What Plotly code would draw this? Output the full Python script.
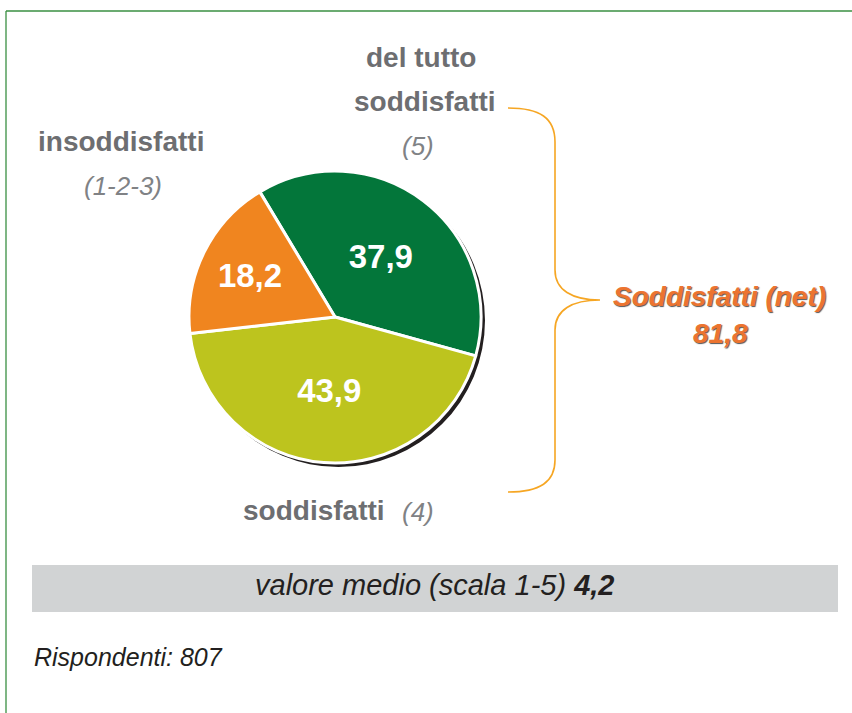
import plotly.graph_objects as go

# ---- data ----
categories = ["del tutto soddisfatti (5)", "soddisfatti (4)", "insoddisfatti (1-2-3)"]
values = [37.9, 43.9, 18.2]
net_label = "Soddisfatti (net)"
net_value = 81.8
mean_value = 4.2
respondents = 807

colors = ["#03763a", "#bdc41e", "#f0851f"]

W, H = 852, 713
NARROW = "Liberation Sans Narrow, Arial Narrow, Liberation Sans, Arial, sans-serif"
GREY = "#6d6e71"
LGREY = "#808285"


def px(x):
    return x / W


def py(y):
    return 1 - y / H


def fmt(v):
    return f"{v:.1f}".replace(".", ",")


# pie geometry (pixels)
cx, cy, r = 335, 317, 146

fig = go.Figure()
fig.add_trace(go.Pie(
    labels=categories,
    values=values,
    sort=False,
    direction="clockwise",
    rotation=-31,
    marker=dict(colors=colors, line=dict(color="white", width=3)),
    texttemplate="<b>%{value:.1f}</b>",
    textposition="inside",
    insidetextorientation="horizontal",
    textfont=dict(family=NARROW, size=33, color="white"),
    hoverinfo="label+value",
    showlegend=False,
    domain=dict(x=[px(cx - r), px(cx + r)], y=[py(cy + r), py(cy - r)]),
))

shapes = []
# frame (left & top green lines)
shapes.append(dict(type="line", xref="paper", yref="paper", x0=px(6), y0=py(11), x1=px(852), y1=py(11),
                   line=dict(color="#3a8f42", width=1.3)))
shapes.append(dict(type="line", xref="paper", yref="paper", x0=px(6), y0=py(11), x1=px(6), y1=py(713),
                   line=dict(color="#3a8f42", width=1.3)))
# pie shadow
sh = 3
shapes.append(dict(type="circle", xref="paper", yref="paper", layer="below",
                   x0=px(cx - r + sh), x1=px(cx + r + sh + 1), y0=py(cy + r + sh + 1), y1=py(cy - r + sh),
                   fillcolor="#231f20", line=dict(width=0)))
# grey band
shapes.append(dict(type="rect", xref="paper", yref="paper", layer="below",
                   x0=px(32), x1=px(838), y0=py(612), y1=py(565),
                   fillcolor="#d1d3d4", line=dict(width=0)))
# curly brace
pts = [
    ("M", [(508, 108)]),
    ("C", [(540, 108), (555, 118), (555, 142)]),
    ("L", [(555, 270)]),
    ("C", [(555, 290), (572, 300), (600, 300)]),
    ("C", [(572, 300), (555, 310), (555, 330)]),
    ("L", [(555, 460)]),
    ("C", [(555, 482), (540, 492), (508, 492)]),
]
path = ""
for cmd, plist in pts:
    path += cmd + " " + ", ".join(f"{px(a):.5f},{py(b):.5f}" for a, b in plist) + " "
shapes.append(dict(type="path", xref="paper", yref="paper", path=path.strip(),
                   line=dict(color="#f6a623", width=1.6)))

ann = []


def add(text, x, y, size, color, xanchor="center", shadow=None):
    f = dict(family=NARROW, size=size, color=color)
    if shadow:
        f["shadow"] = shadow
    ann.append(dict(text=text, x=px(x), y=py(y), xref="paper", yref="paper",
                    xanchor=xanchor, yanchor="middle", showarrow=False, font=f))


add("<b>del tutto</b>", 421, 57, 28, GREY)
add("<b>soddisfatti</b>", 425, 102, 28, GREY)
add("<i>(5)</i>", 418, 146, 26, LGREY)
add("<b>insoddisfatti</b>", 121, 142, 28, GREY)
add("<i>(1-2-3)</i>", 123, 186, 26, LGREY)
add("<b>soddisfatti</b>", 314, 511, 28, GREY)
add("<i>(4)</i>", 400, 512, 26, LGREY, xanchor="left")
add(f"<b><i>{net_label}</i></b>", 719, 296, 28, "#ec7430", shadow="1px 1px 1px #555")
add(f"<b><i>{fmt(net_value)}</i></b>", 720, 333, 28, "#ec7430", shadow="1px 1px 1px #555")
add(f"<i>valore medio (scala 1-5)</i> <b><i>{fmt(mean_value)}</i></b>", 434, 585, 29, "#231f20")
ann.append(dict(text=f"<i>Rispondenti: {respondents}</i>", x=px(32), y=py(657), xref="paper", yref="paper",
                xanchor="left", yanchor="middle", showarrow=False,
                font=dict(family="Liberation Sans, Arial, sans-serif", size=25, color="#231f20")))

fig.update_layout(
    width=W, height=H,
    margin=dict(l=0, r=0, t=0, b=0),
    paper_bgcolor="white", plot_bgcolor="white",
    separators=",.",
    shapes=shapes,
    annotations=ann,
)

fig.write_html("out.html")
